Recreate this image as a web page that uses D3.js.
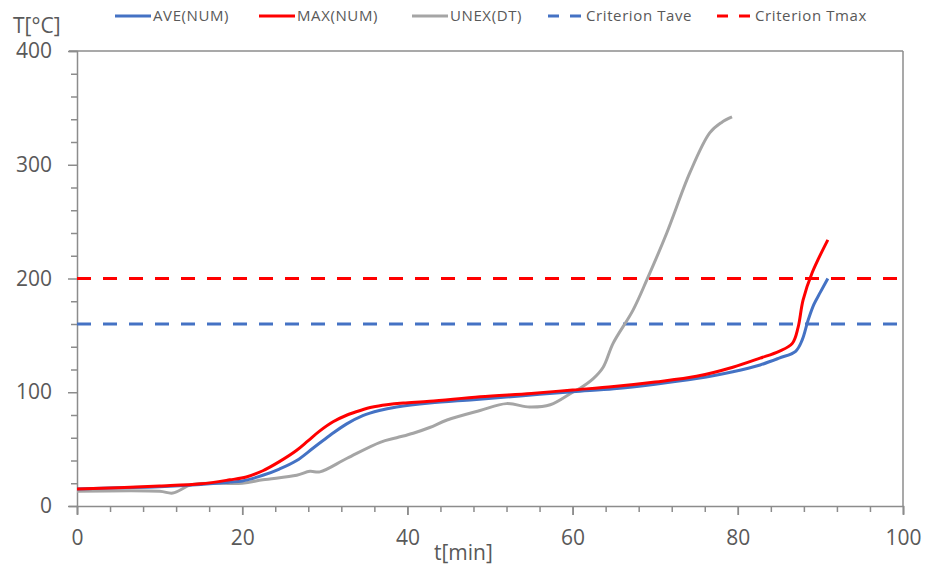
<!DOCTYPE html>
<html lang="en">
<head>
    <meta charset="UTF-8">
    <title>T vs t</title>
    <script src="https://d3js.org/d3.v7.min.js"></script>
    <style>
        body { margin: 0; background: #fff; }
        text { font-family: "Open Sans", sans-serif; fill: #595959; }
        .tick-label { font-size: 21px; }
        .legend-text { font-size: 15px; letter-spacing: 0.6px; }
    </style>
</head>
<body>
    <script>
        // series data
        var aveTime = [0, 5, 10, 15, 18.5, 20, 22.5, 24.5, 26.6, 28.6, 30.6, 32.6, 34.6, 36.6, 38.7, 42.7, 48, 54, 60, 65, 70, 75, 79.4, 82.7, 85, 87, 87.8, 88.5, 89.2, 90, 90.9];
        var aveTemp = [15, 16, 17, 19, 21, 22, 27, 32.5, 40, 51, 62, 72, 79.5, 84, 87, 90.5, 93.5, 97, 100.5, 103, 107, 112, 118, 124, 130, 136, 146, 163, 177, 188, 200];

        var maxTime = [0, 5, 10, 15, 18.5, 20.5, 22.5, 24.5, 26.6, 28, 29.4, 31, 32.7, 34.3, 35.8, 37.5, 39.5, 42.7, 48.8, 55, 60, 65, 70, 75, 79.4, 82.7, 85, 86.6, 87.3, 87.9, 89, 90.9];
        var maxTemp = [15, 16, 17.5, 19.5, 23, 25.5, 31, 39, 49, 57.5, 66, 74, 80, 84, 87, 89, 90.5, 92, 96, 99, 102, 105, 109, 114, 122, 130, 136, 143, 157, 181, 205, 234];

        var unexTime = [0, 10, 11.6, 14, 20, 22.5, 26.6, 28.2, 29.4, 32.7, 36.7, 38.7, 40.7, 42.7, 44.8, 48.8, 52, 54.8, 57.3, 60, 61, 62.5, 63.7, 64.9, 67.3, 69, 71.4, 74.2, 76.6, 78, 79.3];
        var unexTemp = [13, 13, 11.4, 19, 20, 23, 27, 30.5, 30, 42, 56, 60, 64, 69, 75.6, 84, 90, 87, 89, 100, 104, 112, 122, 143, 172, 199, 240, 293, 328, 337, 342];

        var criterionNames = ["Criterion Tave", "Criterion Tmax"];
        var criterionValues = [160, 200];

        var seriesNames = ["AVE(NUM)", "MAX(NUM)", "UNEX(DT)"];
        var xTicks = [0, 20, 40, 60, 80, 100];
        var yTicks = [0, 100, 200, 300, 400];

        var w = 928, h = 571;
        var mLeft = 77, mRight = 903, mTop = 51, mBottom = 506;

        var svg = d3.select("body").append("svg")
            .attr("width", w)
            .attr("height", h);

        var xScale = d3.scaleLinear().domain([0, 100]).range([mLeft, mRight]);
        var yScale = d3.scaleLinear().domain([0, 400]).range([mBottom, mTop]);

        var axisColor = "#8c8c8c";

        // frame top + right
        svg.append("line")
            .attr("x1", mLeft - 8).attr("x2", mRight)
            .attr("y1", mTop).attr("y2", mTop)
            .attr("stroke", axisColor).attr("stroke-width", 1.5);
        svg.append("line")
            .attr("x1", mRight).attr("x2", mRight)
            .attr("y1", mTop).attr("y2", mBottom)
            .attr("stroke", axisColor).attr("stroke-width", 1.5);

        // y axis
        var yAxis = d3.axisLeft(yScale)
            .tickValues(d3.range(0, 401, 20))
            .tickSize(8)
            .tickFormat(function (d) { return yTicks.indexOf(d) >= 0 ? d : ""; });
        var gy = svg.append("g")
            .attr("transform", "translate(" + mLeft + ",0)")
            .call(yAxis);
        gy.selectAll("line").attr("stroke", axisColor).attr("stroke-width", 1.5)
            .attr("x2", function (d) { return yTicks.indexOf(d) >= 0 ? -9 : -6; });
        gy.select(".domain").attr("stroke", axisColor).attr("stroke-width", 1.5);
        gy.selectAll("text").attr("class", "tick-label").attr("x", -25);

        // x axis
        var xAxis = d3.axisBottom(xScale)
            .tickValues(d3.range(0, 101, 4).concat(xTicks))
            .tickSize(8)
            .tickFormat(function (d, i) { return (xTicks.indexOf(d) >= 0 && i > 25) ? d : ""; });
        var gx = svg.append("g")
            .attr("transform", "translate(0," + mBottom + ")")
            .call(xAxis);
        gx.selectAll("line").attr("stroke", axisColor).attr("stroke-width", 1.5)
            .attr("y2", function (d) { return xTicks.indexOf(d) >= 0 ? 9 : 6; });
        gx.select(".domain").attr("stroke", axisColor).attr("stroke-width", 1.5);
        gx.selectAll("text").attr("class", "tick-label").attr("y", 24);

        // axis titles
        svg.append("text").attr("x", 13).attr("y", 33)
            .style("font-size", "21px").text("T[°C]");
        svg.append("text").attr("x", 434).attr("y", 560)
            .style("font-size", "21px").text("t[min]");

        // criterion lines
        var critColors = ["#4472C4", "#FF0000"];
        criterionValues.forEach(function (v, i) {
            svg.append("line")
                .attr("x1", xScale(0)).attr("x2", xScale(100))
                .attr("y1", yScale(v)).attr("y2", yScale(v))
                .attr("stroke", critColors[i])
                .attr("stroke-width", 3)
                .attr("stroke-dasharray", "14,12");
        });

        // curves
        var line = d3.line()
            .x(function (d) { return xScale(d[0]); })
            .y(function (d) { return yScale(d[1]); })
            .curve(d3.curveCatmullRom.alpha(0.5));

        var series = [
            { t: unexTime, v: unexTemp, color: "#A5A5A5" },
            { t: aveTime, v: aveTemp, color: "#4472C4" },
            { t: maxTime, v: maxTemp, color: "#FF0000" }
        ];
        series.forEach(function (s) {
            svg.append("path")
                .datum(d3.zip(s.t, s.v))
                .attr("fill", "none")
                .attr("stroke", s.color)
                .attr("stroke-width", 3)
                .attr("stroke-linejoin", "round")
                .attr("d", line);
        });

        // legend
        var legend = [
            { name: seriesNames[0], color: "#4472C4", dash: null, x: 115 },
            { name: seriesNames[1], color: "#FF0000", dash: null, x: 259 },
            { name: seriesNames[2], color: "#A5A5A5", dash: null, x: 412 },
            { name: criterionNames[0], color: "#4472C4", dash: "11,11", x: 548 },
            { name: criterionNames[1], color: "#FF0000", dash: "11,11", x: 717 }
        ];
        legend.forEach(function (d) {
            svg.append("line")
                .attr("x1", d.x).attr("x2", d.x + 36)
                .attr("y1", 16).attr("y2", 16)
                .attr("stroke", d.color).attr("stroke-width", 3)
                .attr("stroke-dasharray", d.dash);
            svg.append("text")
                .attr("class", "legend-text")
                .attr("x", d.x + 38).attr("y", 21)
                .text(d.name);
        });
    </script>
</body>
</html>
